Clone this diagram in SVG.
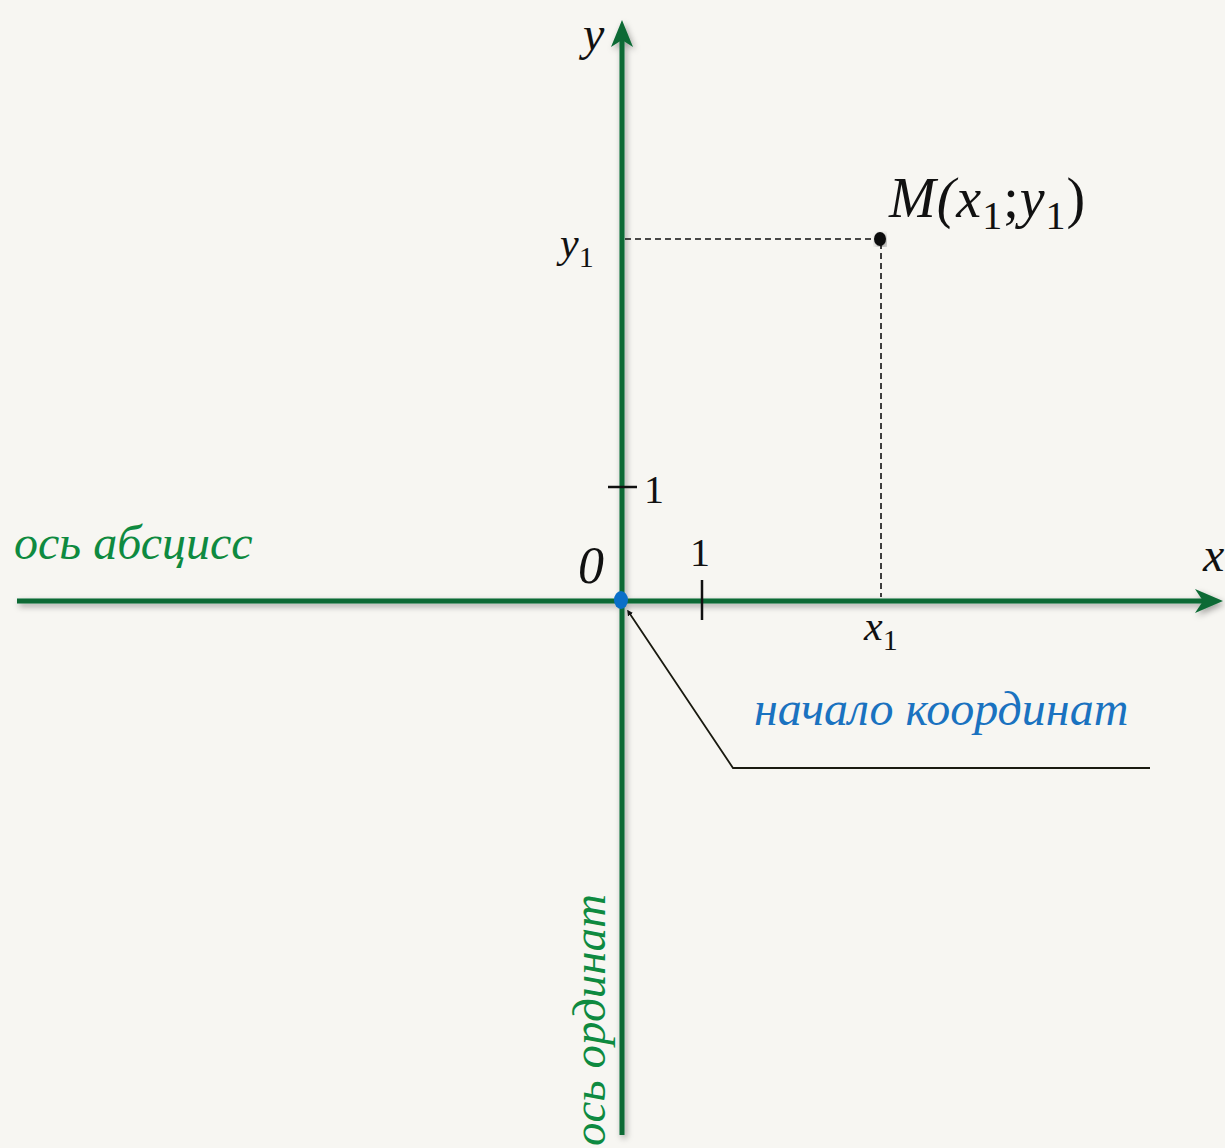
<svg xmlns="http://www.w3.org/2000/svg" width="1225" height="1148" viewBox="0 0 1225 1148">
<style>
.ax{stroke:#0b6a35;stroke-width:5;fill:none}
.math{font-family:"Liberation Serif","DejaVu Serif",serif;font-style:italic;fill:#111}
.num{font-family:"Liberation Serif","DejaVu Serif",serif;fill:#111}
.dash{stroke:#111;stroke-width:1.6;stroke-dasharray:6,4;fill:none}
.lbl{font-family:"Liberation Serif","DejaVu Serif",serif;font-style:italic}
</style>
<defs>
<filter id="sh" x="-5%" y="-5%" width="110%" height="110%">
<feDropShadow dx="2" dy="3" stdDeviation="3" flood-color="#000" flood-opacity="0.35"/>
</filter>
<marker id="arr" viewBox="0 0 10 10" refX="1.5" refY="5" markerWidth="6" markerHeight="6" orient="auto" markerUnits="userSpaceOnUse">
<path d="M0,0 L10,5 L0,10 Z" fill="#111"/>
</marker>
</defs>
<rect width="1225" height="1148" fill="#f7f6f2"/>
<g id="axes" filter="url(#sh)">
<line class="ax" x1="17" y1="601" x2="1205" y2="601"/>
<path d="M1223,601 L1195,589 L1203,601 L1195,613 Z" fill="#0b6a35"/>
<line class="ax" x1="622" y1="1135" x2="622" y2="38"/>
<path d="M622,20 L611,47 L622,40 L633,47 Z" fill="#0b6a35"/>
</g>
<g id="connectors">
<line class="dash" x1="625" y1="239" x2="878" y2="239"/>
<line class="dash" x1="881" y1="243" x2="881" y2="597"/>
<polyline points="1150,768 733,768 630,614" fill="none" stroke="#1a1a10" stroke-width="1.8" marker-end="url(#arr)"/>
</g>
<g id="ticks">
<line x1="608" y1="487" x2="637" y2="487" stroke="#111" stroke-width="2.5"/>
<line x1="702" y1="580" x2="702" y2="620" stroke="#111" stroke-width="2.5"/>
</g>
<g id="point-M">
<ellipse cx="880" cy="239" rx="6" ry="7" fill="#111" filter="url(#sh)"/>
<text class="math" x="889" y="217" font-size="56" letter-spacing="1">M(x<tspan class="num" font-style="normal" font-size="40" dy="12">1</tspan><tspan font-style="normal" dy="-12">;</tspan>y<tspan class="num" font-style="normal" font-size="40" dy="12">1</tspan><tspan font-style="normal" dy="-12">)</tspan></text>
</g>
<g id="origin">
<ellipse cx="621" cy="600" rx="7" ry="9" fill="#0a6fc8"/>
<text class="math" x="578" y="583" font-size="52">0</text>
</g>
<g id="labels">
<text class="math" x="583" y="50" font-size="48">y</text>
<text class="math" x="1203" y="571" font-size="48">x</text>
<text class="math" x="560" y="257" font-size="42">y<tspan class="num" font-style="normal" font-size="30" dy="10">1</tspan></text>
<text class="math" x="864" y="640" font-size="42">x<tspan class="num" font-style="normal" font-size="30" dy="10">1</tspan></text>
<text class="num" x="644" y="503" font-size="40">1</text>
<text class="num" x="690" y="566" font-size="40">1</text>
</g>
<g id="captions">
<text class="lbl" x="14" y="559" font-size="48" fill="#0e8a40">ось абсцисс</text>
<text class="lbl" x="754" y="725" font-size="48" fill="#1a72c0">начало координат</text>
<text class="lbl" font-size="47" fill="#0e8a40" transform="translate(605,1146) rotate(-90)">ось ординат</text>
</g>
</svg>
